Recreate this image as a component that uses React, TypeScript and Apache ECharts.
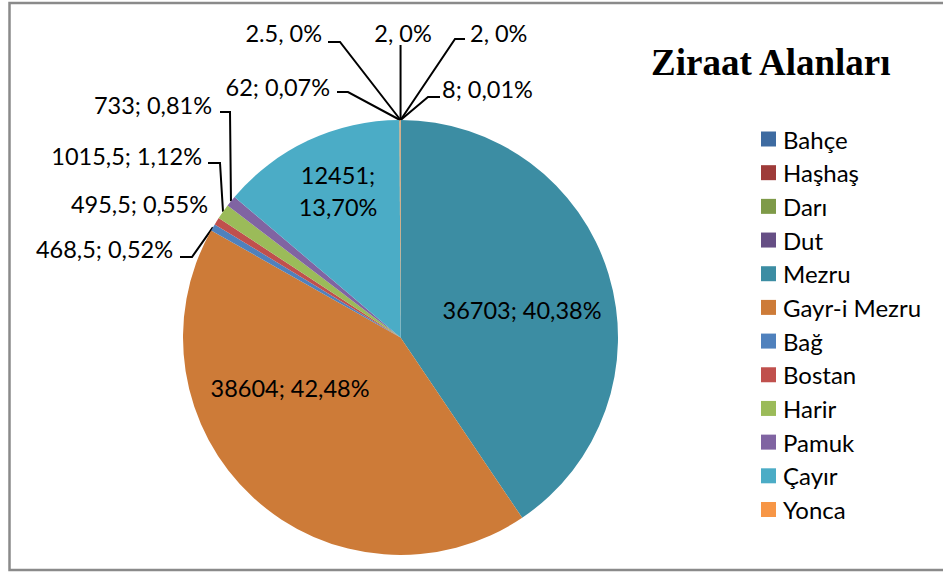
import React, { useEffect, useRef } from 'react';
import * as echarts from 'echarts';

const categories = ['Bahçe', 'Haşhaş', 'Darı', 'Dut', 'Mezru', 'Gayr-i Mezru', 'Bağ', 'Bostan', 'Harir', 'Pamuk', 'Çayır', 'Yonca'];
const values = [2.5, 2, 2, 8, 36703, 38604, 468.5, 495.5, 1015.5, 733, 12451, 62];
const labelTexts = ['2.5, 0%', '2, 0%', '2, 0%', '8; 0,01%', '36703; 40,38%', '38604; 42,48%', '468,5; 0,52%', '495,5; 0,55%', '1015,5; 1,12%', '733; 0,81%', '12451;\n13,70%', '62; 0,07%'];
const colors = ['#3E6BA1', '#9E3B39', '#7E9A48', '#664F85', '#3C8DA3', '#CD7B38', '#4F81BD', '#C0504D', '#9BBB59', '#8064A2', '#4BACC6', '#F79646'];
const insideIdx = [4, 5, 10];
const noLineIdx = [7];

type Place = {
  x: number;
  y: number;
  align: 'left' | 'right' | 'center';
  line?: number[][];
  vertTop?: number;
};

// label layout (positions of texts and leader elbows)
const placement: Record<number, Place> = {
  0: { x: 322, y: 33, align: 'right', line: [[340, 42], [328, 42]] },
  1: { x: 403, y: 33, align: 'center', vertTop: 45 },
  2: { x: 470, y: 33, align: 'left', line: [[455, 39], [465, 39]] },
  3: { x: 442, y: 89, align: 'left', line: [[428, 97], [440, 97]] },
  4: { x: 522, y: 310, align: 'center' },
  5: { x: 290, y: 388, align: 'center' },
  6: { x: 173, y: 249, align: 'right', line: [[192, 257], [180, 257]] },
  7: { x: 208, y: 204, align: 'right' },
  8: { x: 202, y: 156, align: 'right', line: [[220, 163], [208, 163]] },
  9: { x: 212, y: 105, align: 'right', line: [[230, 112], [220, 112]] },
  10: { x: 338, y: 191, align: 'center' },
  11: { x: 330, y: 87, align: 'right', line: [[348, 92], [337, 92]] },
};

export default function App() {
  const ref = useRef<HTMLDivElement>(null);
  useEffect(() => {
    const chart = echarts.init(ref.current!, null, { renderer: 'svg' });
    chart.setOption({
      animation: false,
      backgroundColor: '#ffffff',
      title: {
        text: 'Ziraat Alanları',
        left: 651,
        top: 44,
        padding: 0,
        textStyle: {
          fontFamily: '"Liberation Serif", "Times New Roman", serif',
          fontWeight: 'bold',
          fontSize: 37,
          color: '#000',
        },
      },
      legend: {
        orient: 'vertical',
        left: 761,
        top: 127,
        padding: 0,
        icon: 'rect',
        itemWidth: 15,
        itemHeight: 15,
        itemGap: 9.68,
        selectedMode: false,
        data: categories,
        textStyle: {
          fontFamily: 'Lato',
          fontSize: 24,
          lineHeight: 24,
          color: '#000',
          padding: [0, 0, 0, 2],
        },
      },
      graphic: [
        {
          type: 'rect',
          silent: true,
          z: -1,
          shape: { x: 9.5, y: 3, width: 1000, height: 567 },
          style: { fill: 'none', stroke: '#8a8a8a', lineWidth: 2.5 },
        },
      ],
      series: [
        {
          type: 'pie',
          center: [400.5, 337.5],
          radius: 217.5,
          startAngle: 90,
          clockwise: true,
          avoidLabelOverlap: false,
          minShowLabelAngle: 0,
          emphasis: { disabled: true },
          itemStyle: { borderWidth: 0 },
          label: {
            show: true,
            position: 'outside',
            formatter: (p: any) => labelTexts[p.dataIndex],
            fontFamily: 'Lato',
            fontSize: 23.5,
            lineHeight: 32,
            color: '#000',
          },
          labelLine: {
            show: true,
            length: 10,
            length2: 10,
            lineStyle: { color: '#000', width: 2 },
          },
          labelLayout: (params: any) => {
            const p = placement[params.dataIndex];
            if (!p) return {};
            const res: any = { x: p.x, y: p.y, align: p.align, verticalAlign: 'middle' };
            const pts = params.labelLinePoints;
            if (pts && pts.length) {
              const anchor = pts[0];
              if (p.line) {
                res.labelLinePoints = [anchor, p.line[0], p.line[1]];
              } else if (p.vertTop != null) {
                res.labelLinePoints = [anchor, [anchor[0], p.vertTop], [anchor[0], p.vertTop]];
              }
            }
            return res;
          },
          data: categories.map((name, i) => ({
            name,
            value: values[i],
            itemStyle: { color: colors[i] },
            label: insideIdx.includes(i) ? { position: 'inside' } : undefined,
            labelLine: insideIdx.includes(i) || noLineIdx.includes(i) ? { show: false } : undefined,
          })),
        },
      ],
    });
    return () => chart.dispose();
  }, []);
  return (
    <div
      ref={ref}
      style={{ position: 'fixed', left: 0, top: 0, width: 943, height: 572, background: '#fff' }}
    />
  );
}
